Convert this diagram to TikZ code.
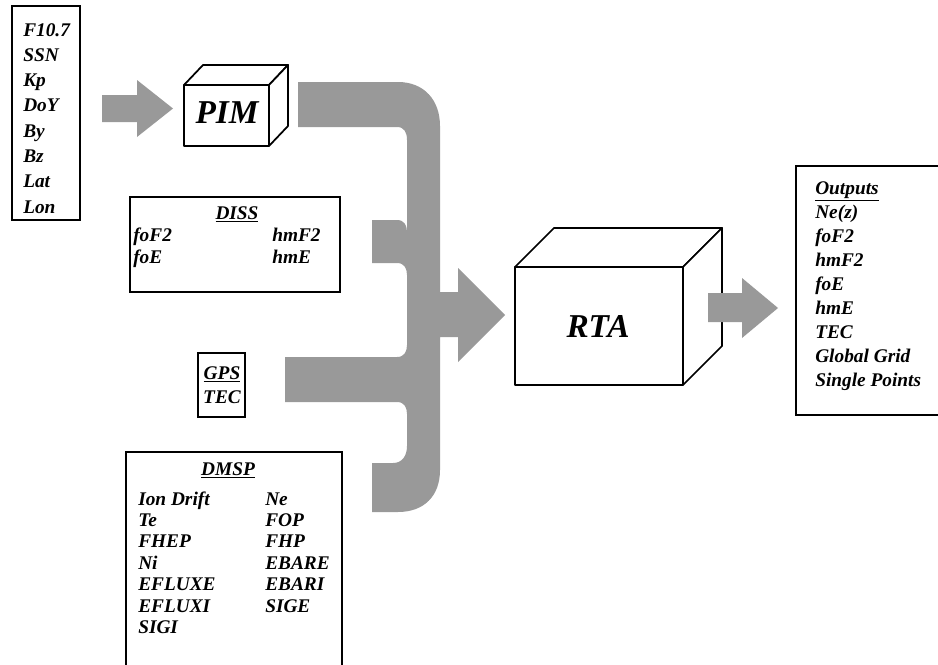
\documentclass[tikz,border=0pt]{standalone}
\usepackage{fontspec}
\setmainfont{Liberation Serif}
\usepackage{tikz}
\usetikzlibrary{calc}
\definecolor{bandgray}{gray}{0.6}
\tikzset{
	lbl/.style={font=\fontsize{14.5}{17}\selectfont\bfseries\itshape, inner sep=0pt, anchor=base west},
	ttl/.style={lbl, anchor=base},
	big/.style={font=\fontsize{25}{30}\selectfont\bfseries\itshape, inner sep=0pt},
	frame/.style={line width=0.9pt},
	cube/.style={line width=1.3pt, line join=round, fill=white},
	fat/.style={fill=bandgray, draw=none}
}

\begin{document}
\begin{tikzpicture}[x=0.75pt, y=-0.75pt]
			%%%%% START %%%%%
			\useasboundingbox (0, 0) rectangle (938, 664);
			
			% input parameters
			\draw[frame] (12, 6) rectangle (80, 220);
			\node[lbl] (f107) at (23, 36) {F10.7};
			\node[lbl] (ssn) at (23, 61.3) {SSN};
			\node[lbl] (kp) at (23, 86.6) {Kp};
			\node[lbl] (doy) at (23, 111.9) {DoY};
			\node[lbl] (by) at (23, 137.2) {By};
			\node[lbl] (bz) at (23, 162.5) {Bz};
			\node[lbl] (lat) at (23, 187.8) {Lat};
			\node[lbl] (lon) at (23, 213.1) {Lon};
			
			\draw[fat] (102, 95) -- (137, 95) -- (137, 80) -- (173, 108.5) -- (137, 137) -- (137, 122) -- (102, 122) -- cycle;
			
			% PIM
			\draw[cube] (184, 85) -- (203, 65) -- (288, 65) -- (269, 85) -- cycle;
			\draw[cube] (269, 85) -- (288, 65) -- (288, 126) -- (269, 146) -- cycle;
			\draw[cube] (184, 85) rectangle (269, 146);
			\node[big] (pim) at (227, 113) {PIM};
			
			% DISS
			\draw[frame] (130, 197) rectangle (340, 292);
			\node[ttl] (diss) at (237, 219) {\underline{DISS}};
			\node[lbl] (fof2) at (133, 241) {foF2};
			\node[lbl] (foe) at (133, 263) {foE};
			\node[lbl] (hmf2) at (272, 241) {hmF2};
			\node[lbl] (hme) at (272, 263) {hmE};
			
			% GPS
			\draw[frame] (198, 353) rectangle (245, 417);
			\node[ttl] (gps) at (222, 379.5) {\underline{GPS}};
			\node[ttl] (gpstec) at (222, 403.5) {TEC};
			
			% DMSP
			\draw[frame] (126, 670) -- (126, 452) -- (342, 452) -- (342, 670);
			\node[ttl] (dmsp) at (228, 475) {\underline{DMSP}};
			\node[lbl] (drift) at (138, 505) {Ion Drift};
			\node[lbl] (te) at (138, 526.4) {Te};
			\node[lbl] (fhep) at (138, 547.8) {FHEP};
			\node[lbl] (ni) at (138, 569.2) {Ni};
			\node[lbl] (efluxe) at (138, 590.6) {EFLUXE};
			\node[lbl] (efluxi) at (138, 612) {EFLUXI};
			\node[lbl] (sigi) at (138, 633.4) {SIGI};
			\node[lbl] (ne) at (265, 505) {Ne};
			\node[lbl] (fop) at (265, 526.4) {FOP};
			\node[lbl] (fhp) at (265, 547.8) {FHP};
			\node[lbl] (ebare) at (265, 569.2) {EBARE};
			\node[lbl] (ebari) at (265, 590.6) {EBARI};
			\node[lbl] (sige) at (265, 612) {SIGE};
			
			% collecting band
			\draw[fat] (298, 82) -- (398, 82) .. controls (424, 82) and (440, 100) .. (440, 126)
				-- (440, 292) -- (458, 292) -- (458, 268) -- (505, 315) -- (458, 362) -- (458, 337) -- (440, 337)
				-- (440, 470) .. controls (440, 496) and (424, 512) .. (398, 512)
				-- (372, 512) -- (372, 463) -- (393, 463) .. controls (402, 463) and (407, 456) .. (407, 446)
				-- (407, 414) .. controls (407, 407) and (404, 402) .. (397, 402)
				-- (285, 402) -- (285, 357) -- (397, 357) .. controls (404, 357) and (407, 352) .. (407, 345)
				-- (407, 275) .. controls (407, 268) and (404, 263) .. (397, 263)
				-- (372, 263) -- (372, 220) -- (397, 220) .. controls (404, 220) and (407, 225) .. (407, 232)
				-- (407, 140) .. controls (407, 132) and (404, 127) .. (397, 127)
				-- (298, 127) -- cycle;
			
			% RTA
			\draw[cube] (515, 267) -- (554, 228) -- (722, 228) -- (683, 267) -- cycle;
			\draw[cube] (683, 267) -- (722, 228) -- (722, 346) -- (683, 385) -- cycle;
			\draw[cube] (515, 267) rectangle (683, 385);
			\node[big] (rta) at (598, 326) {RTA};
			
			\draw[fat] (708, 293) -- (742, 293) -- (742, 278) -- (778, 308) -- (742, 338) -- (742, 322) -- (708, 322) -- cycle;
			
			% outputs
			\draw[frame] (945, 166) -- (796, 166) -- (796, 415) -- (945, 415);
			\node[lbl] (outputs) at (815, 194.5) {\underline{Outputs}};
			\node[lbl] (nez) at (815, 218.5) {Ne(z)};
			\node[lbl] (ofof2) at (815, 242.5) {foF2};
			\node[lbl] (ohmf2) at (815, 266.5) {hmF2};
			\node[lbl] (ofoe) at (815, 290.5) {foE};
			\node[lbl] (ohme) at (815, 314.5) {hmE};
			\node[lbl] (otec) at (815, 338.5) {TEC};
			\node[lbl] (grid) at (815, 362.5) {Global Grid};
			\node[lbl] (points) at (815, 386.5) {Single Points};
			
			%%%%% END %%%%%
\end{tikzpicture}
\end{document}
